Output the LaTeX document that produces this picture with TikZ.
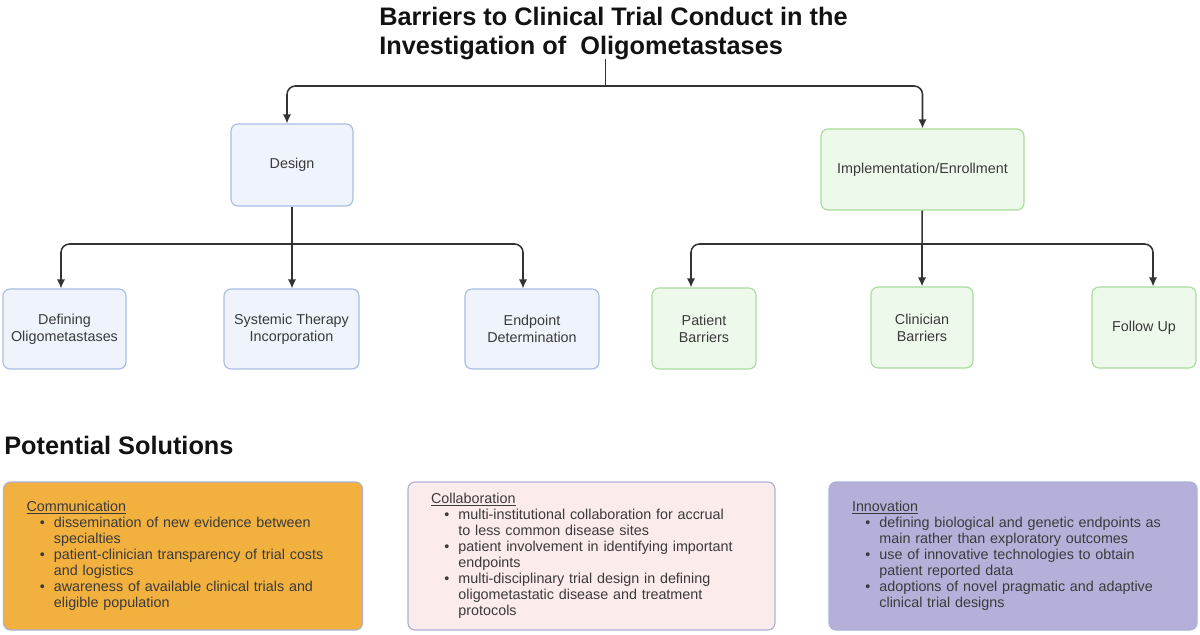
\documentclass[tikz,border=0pt]{standalone}
\usepackage{fontspec}
\setmainfont{Liberation Sans}
\usetikzlibrary{arrows.meta,calc}

\definecolor{dsgfill}{HTML}{EEF3FC}
\definecolor{dsgline}{HTML}{A9BDE2}
\definecolor{impfill}{HTML}{EDF9EA}
\definecolor{impline}{HTML}{A8DC9E}
\definecolor{comfill}{HTML}{F2B13F}
\definecolor{colfill}{HTML}{FCEBEB}
\definecolor{innfill}{HTML}{B5B0DA}
\definecolor{solline}{HTML}{A9B2D3}
\definecolor{txtgrey}{HTML}{3A3A3A}
\definecolor{linegrey}{HTML}{333333}

\newcommand{\pxu}{0.025cm}
\newcommand{\solitem}[1]{\par\hangindent=19.5pt\hangafter=1\noindent\hspace*{9.5pt}\makebox[10pt][l]{\textbullet}#1\par}

\begin{document}
\begin{tikzpicture}[x=0.025cm, y=-0.025cm,
	barbox/.style={draw, rounded corners=5pt, line width=0.8pt, align=center, inner sep=0pt, text=txtgrey, font=\fontsize{10.2}{12}\selectfont},
	dsgbox/.style={barbox, draw=dsgline, fill=dsgfill},
	impbox/.style={barbox, draw=impline, fill=impfill},
	solbox/.style={draw=solline, rounded corners=5pt, line width=0.8pt, align=left, text=txtgrey, minimum height=148*\pxu, inner xsep=23*\pxu, inner ysep=0pt, font=\fontsize{10.2}{11.4}\selectfont},
	conn/.style={draw=linegrey, line width=1.1pt, rounded corners=6pt},
	arr/.style={conn, -{Latex[length=6.5pt,width=6pt]}}]
	\useasboundingbox (0,0) rectangle (1200,635);

	% headings
	\node(title) [anchor=north west, inner sep=0pt, align=left, font=\fontsize{18}{20.5}\selectfont\bfseries, text=black!93] at (379,7) {Barriers to Clinical Trial Conduct in the\\Investigation of~~Oligometastases};
	\node(potsol) [anchor=base west, inner sep=0pt, font=\fontsize{18}{20.5}\selectfont\bfseries, text=black!93] at (4,454) {Potential Solutions};

	% barrier tree
	\node(design) [dsgbox, minimum width=122*\pxu, minimum height=82*\pxu] at (292,165) {Design};
	\node(impl) [impbox, minimum width=203*\pxu, minimum height=81*\pxu] at (922.5,169.5) {Implementation/Enrollment};
	\node(defn) [dsgbox, minimum width=123*\pxu, minimum height=80*\pxu] at (64.5,329) {Defining\\Oligometastases};
	\node(systh) [dsgbox, minimum width=135*\pxu, minimum height=80*\pxu] at (291.5,329) {Systemic Therapy\\Incorporation};
	\node(endpt) [dsgbox, minimum width=134*\pxu, minimum height=80*\pxu] at (532,329) {Endpoint\\Determination};
	\node(patb) [impbox, minimum width=104*\pxu, minimum height=81*\pxu] at (704,328.5) {Patient\\Barriers};
	\node(clinb) [impbox, minimum width=102*\pxu, minimum height=81*\pxu] at (922,327.5) {Clinician\\Barriers};
	\node(follow) [impbox, minimum width=104*\pxu, minimum height=81*\pxu] at (1144,327.5) {Follow Up};

	\coordinate(tj) at (605,59);
	\coordinate(rj) at (605,86);
	\coordinate(dj) at (292,244);
	\coordinate(ij) at (922,244);

	\draw[draw=linegrey, line width=0.6pt] (tj) -- (rj);
	\draw[arr] (rj) -| ($(design.north)+(-5,0)$);
	\draw[arr] (rj) -| (impl.north);

	\draw[conn] (design) -- (dj);
	\draw[arr] (dj) -| ($(defn.north)+(-3.5,0)$);
	\draw[arr] (dj) -- (dj |- systh.north);
	\draw[arr] (dj) -| ($(endpt.north)+(-9,0)$);

	\draw[conn] (impl) -- (ij);
	\draw[arr] (ij) -| ($(patb.north)+(-13,0)$);
	\draw[arr] (ij) -- (clinb);
	\draw[arr] (ij) -| ($(follow.north)+(9,0)$);

	% solutions
	\node(comm) [solbox, fill=comfill, text width=313*\pxu] at (183,556) {\underline{Communication}
		\solitem{dissemination of new evidence between\newline specialties}
		\solitem{patient-clinician transparency of trial costs\newline and logistics}
		\solitem{awareness of available clinical trials and\newline eligible population}};
	\node(collab) [solbox, fill=colfill, text width=321*\pxu] at (591.5,556) {\underline{Collaboration}
		\solitem{multi-institutional collaboration for accrual\newline to less common disease sites}
		\solitem{patient involvement in identifying important\newline endpoints}
		\solitem{multi-disciplinary trial design in defining\newline oligometastatic disease and treatment\newline protocols}};
	\node(innov) [solbox, fill=innfill, text width=322*\pxu] at (1013,556) {\underline{Innovation}
		\solitem{defining biological and genetic endpoints as\newline main rather than exploratory outcomes}
		\solitem{use of innovative technologies to obtain\newline patient reported data}
		\solitem{adoptions of novel pragmatic and adaptive\newline clinical trial designs}};

\end{tikzpicture}
\end{document}
